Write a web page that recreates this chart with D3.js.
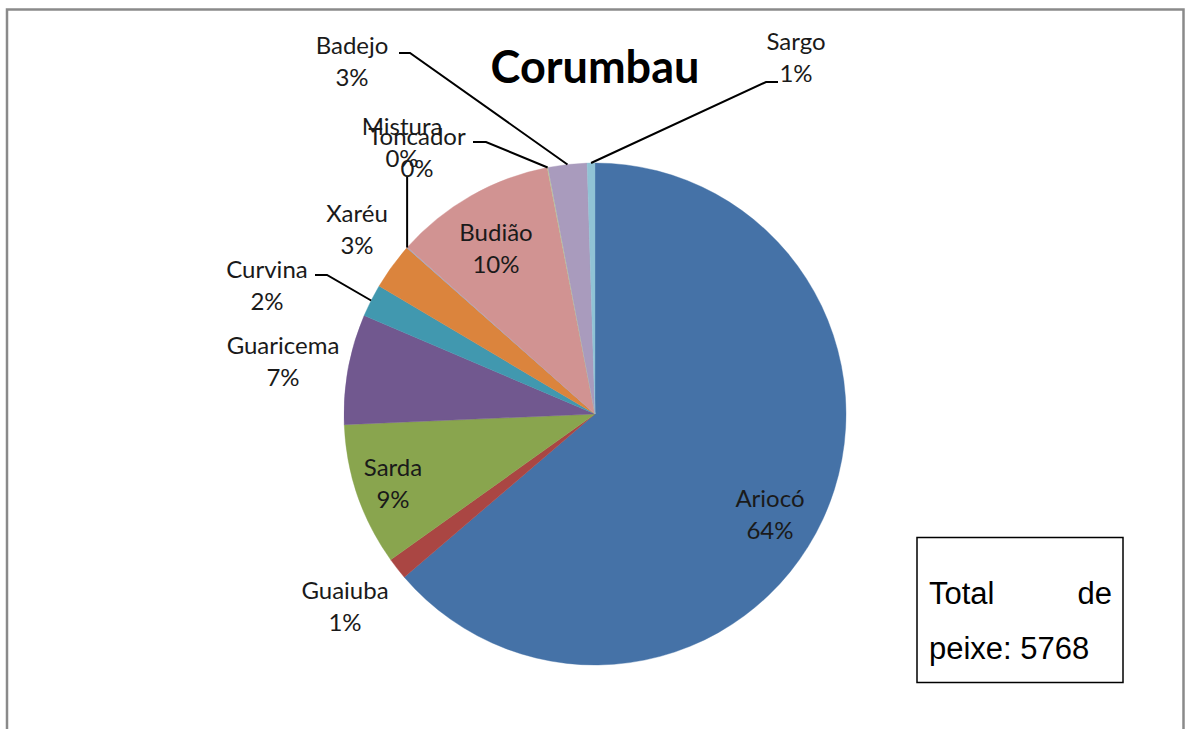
<!DOCTYPE html>
<html>
<head>
<meta charset="utf-8">
<script src="https://cdn.jsdelivr.net/npm/d3@7"></script>
<style>
  html, body { margin: 0; padding: 0; background: #ffffff; }
  svg { display: block; }
</style>
</head>
<body>
<svg id="chart" width="1187" height="729"></svg>
<script>
// ---- data ----
const categories = ["Ariocó", "Guaiuba", "Sarda", "Guaricema", "Curvina", "Xaréu", "Mistura", "Budião", "Toncador", "Badejo", "Sargo"];
const values = [63.8, 1.4, 9.2, 7.1, 2.1, 3.0, 0.05, 10.4, 0.05, 2.5, 0.5];
const percentLabels = ["64%", "1%", "9%", "7%", "2%", "3%", "0%", "10%", "0%", "3%", "1%"];
const colors = ["#4572A7", "#AA4643", "#89A54E", "#71588F", "#4198AF", "#DB843D", "#93A9CF", "#D19392", "#B9CD96", "#A99BBD", "#91C3D5"];
const title = "Corumbau";
const totalLine1 = ["Total", "de"];
const totalLine2 = "peixe: 5768";

// ---- layout ----
const W = 1187, H = 729;
const cx = 595, cy = 414, R = 251;
// label centre (first line) positions
const labelPos = {
  "Ariocó": [770, 497], "Guaiuba": [345, 589], "Sarda": [393, 466], "Guaricema": [283, 344],
  "Curvina": [267, 268], "Xaréu": [357, 212], "Mistura": [402, 125], "Budião": [496, 231],
  "Toncador": [417, 135], "Badejo": [352, 44], "Sargo": [796, 40]
};
const lineGap = 32;
// leader start points (near label) for labels with leader lines
const leaderStart = {
  "Badejo": [[399, 53], [410, 53]],
  "Sargo": [[778, 82], [766, 82]],
  "Curvina": [[315, 275], [327, 275]],
  "Toncador": [[473, 142], [486, 142]],
  "Mistura": "vertical"
};

const svg = d3.select("#chart");

// frame
svg.append("path")
  .attr("d", `M7,${H + 5} L7,9.5 L1183.5,9.5 L1183.5,${H + 5}`)
  .attr("fill", "none").attr("stroke", "#8a8a8a").attr("stroke-width", 2.5);

const data = categories.map((c, i) => ({ name: c, value: values[i], label: percentLabels[i], color: colors[i] }));
const pie = d3.pie().sort(null).value(d => d.value);
const arcs = pie(data);
const arcGen = d3.arc().innerRadius(0).outerRadius(R);
const edgeGen = d3.arc().innerRadius(R).outerRadius(R);

const g = svg.append("g").attr("transform", `translate(${cx},${cy})`);
g.selectAll("path.slice").data(arcs).enter().append("path")
  .attr("class", "slice")
  .attr("d", arcGen)
  .attr("fill", d => d.data.color)
  .attr("stroke", d => d.data.color)
  .attr("stroke-width", 0.4);

// leader lines
arcs.forEach(a => {
  const ls = leaderStart[a.data.name];
  if (!ls) return;
  const c = edgeGen.centroid(a);
  const p = [cx + c[0], cy + c[1]];
  let pts;
  if (ls === "vertical") {
    pts = [[p[0], 176], p];
  } else {
    pts = [...ls, p];
  }
  svg.append("path")
    .attr("d", d3.line()(pts))
    .attr("fill", "none").attr("stroke", "#000").attr("stroke-width", 2);
});

// labels
arcs.forEach(a => {
  const pos = labelPos[a.data.name];
  const t = svg.append("text")
    .attr("text-anchor", "middle")
    .attr("font-family", "Lato, 'Open Sans', sans-serif")
    .attr("font-size", 24)
    .attr("fill", "#1a1a1a");
  t.append("tspan").attr("x", pos[0]).attr("y", pos[1]).attr("dominant-baseline", "central").text(a.data.name);
  t.append("tspan").attr("x", pos[0]).attr("y", pos[1] + lineGap).attr("dominant-baseline", "central").text(a.data.label);
});

// title
svg.append("text")
  .attr("x", 595).attr("y", 83)
  .attr("text-anchor", "middle")
  .attr("font-family", "Lato, 'Open Sans', sans-serif")
  .attr("font-weight", "bold")
  .attr("font-size", 45)
  .attr("fill", "#000")
  .text(title);

// total box
svg.append("rect")
  .attr("x", 917).attr("y", 537.5).attr("width", 206).attr("height", 145)
  .attr("fill", "#fff").attr("stroke", "#000").attr("stroke-width", 1.5);
const tf = "'Liberation Sans', Arial, sans-serif";
svg.append("text").attr("x", 929).attr("y", 604).attr("font-family", tf).attr("font-size", 31).attr("fill", "#000").text(totalLine1[0]);
svg.append("text").attr("x", 1112).attr("y", 604).attr("text-anchor", "end").attr("font-family", tf).attr("font-size", 31).attr("fill", "#000").text(totalLine1[1]);
svg.append("text").attr("x", 929).attr("y", 659).attr("font-family", tf).attr("font-size", 31).attr("fill", "#000").text(totalLine2);
</script>
</body>
</html>
